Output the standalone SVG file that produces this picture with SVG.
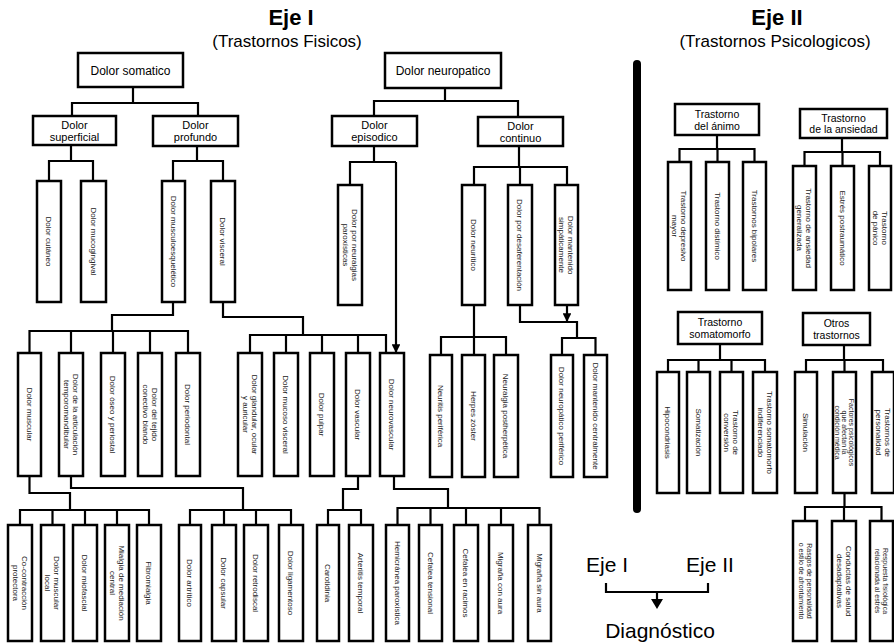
<svg xmlns="http://www.w3.org/2000/svg" width="894" height="643" viewBox="0 0 894 643">
<defs>
<marker id="ah" viewBox="0 0 10 10" refX="10" refY="5" markerWidth="4" markerHeight="4" orient="auto"><path d="M0,0L10,5L0,10z" fill="#000"/></marker>
<style>
.b{fill:#fff;stroke:#000;stroke-width:2.5}
.c{fill:none;stroke:#000;stroke-width:2.2}
text{font-family:"Liberation Sans",Arial,sans-serif;fill:#000;text-anchor:middle}
.h{font-size:12px}
.h2{font-size:11px}
.h3{font-size:10.5px}
.v{font-size:8px;fill:#222}
.v7{font-size:7px;fill:#222}
.t1{font-size:22px;font-weight:bold}
.t2{font-size:17px}
.lg{font-size:21px}
</style>
</defs>
<rect width="894" height="643" fill="#fff"/>

<g id="titles">
<text class="t1" x="291" y="25">Eje I</text>
<text class="t2" x="287" y="47">(Trastornos Fisicos)</text>
<text class="t1" x="777" y="25">Eje II</text>
<text class="t2" x="775" y="47">(Trastornos Psicologicos)</text>
</g>

<g id="connectors">
<path class="c" d="M133,87V103M72,116V103H198V116"/>
<path class="c" d="M71,145V161M49,181V161H93V181"/>
<path class="c" d="M197,146V161M173,181V161H223V181"/>
<path class="c" d="M445,88V101M374,116V101H518V117"/>
<path class="c" d="M374,146V162M350,185V162H396"/>
<path class="c" d="M396,162V353" marker-end="url(#ah)"/>
<path class="c" d="M519,146V167M474,185V167H567V185M520,167V185"/>
<path class="c" d="M173,302V315H112V331M29.5,353V331H188V353M71,331V353M113,331V353M150,331V353"/>
<path class="c" d="M223,302V317H303V335M250,353V335H386V353M286,335V353M322,335V353M358,335V353"/>
<path class="c" d="M474,305V337M441,355V337H506V355M474,337V355"/>
<path class="c" d="M520,305V322H577V338M562,355V338H595.5V355"/>
<path class="c" d="M567,305V322" marker-end="url(#ah)"/>
<path class="c" d="M29.5,476V493H70V510M20,525V510H149V525M52.5,510V525M85,510V525M117,510V525"/>
<path class="c" d="M71,476V488H243V510M190,525V510H291V525M224,510V525M256,510V525"/>
<path class="c" d="M358,476V489H343V510M328,525V510H361V525"/>
<path class="c" d="M394,476V489H448V508M397.5,525V508H539.5V525M430.5,508V525M466,508V525M501,508V525"/>
<path class="c" d="M717,135V149M679.5,162V149H754.5V162M717.5,149V162"/>
<path class="c" d="M842,138V152M804.5,166V152H880V166M842.5,152V166"/>
<path class="c" d="M720,344V360M668,372V360H765V372M698.5,360V372M731.5,360V372"/>
<path class="c" d="M844,345V360M806,372V360H883V372M844.5,360V372"/>
<path class="c" d="M844.5,493V507M805,521V507H881.5V521M844,507V521"/>
</g>

<g id="n-somatico"><rect class="b" x="78" y="53" width="105" height="34"/><text class="h" x="130.5" y="74.5">Dolor somatico</text></g>
<g id="n-neuropatico"><rect class="b" x="385" y="53" width="116" height="35"/><text class="h" x="443" y="75">Dolor neuropatico</text></g>
<g id="n-superficial"><rect class="b" x="33" y="116" width="83" height="29"/><text class="h2" x="74.5" y="129">Dolor</text><text class="h2" x="74.5" y="141">superficial</text></g>
<g id="n-profundo"><rect class="b" x="153" y="116" width="85" height="30"/><text class="h2" x="195.5" y="129">Dolor</text><text class="h2" x="195.5" y="141">profundo</text></g>
<g id="n-episodico"><rect class="b" x="332" y="116" width="85" height="30"/><text class="h2" x="374.5" y="129">Dolor</text><text class="h2" x="374.5" y="141">episodico</text></g>
<g id="n-continuo"><rect class="b" x="478" y="117" width="85" height="29"/><text class="h2" x="520.5" y="130">Dolor</text><text class="h2" x="520.5" y="142">continuo</text></g>

<g id="v-cutaneo"><rect class="b" x="37" y="181" width="24" height="121"/><text class="v" transform="translate(49,241.5) rotate(90)" y="2.8">Dolor cutáneo</text></g>
<g id="v-mucogingival"><rect class="b" x="81" y="181" width="25" height="121"/><text class="v" transform="translate(93.5,241.5) rotate(90)" y="2.8">Dolor mucogingival</text></g>
<g id="v-musculo"><rect class="b" x="162" y="181" width="23" height="121"/><text class="v" transform="translate(173.5,241.5) rotate(90)" y="2.8">Dolor musculoesquelético</text></g>
<g id="v-visceral"><rect class="b" x="211" y="181" width="24" height="121"/><text class="v" transform="translate(223,241.5) rotate(90)" y="2.8">Dolor visceral</text></g>
<g id="v-paroxistico"><rect class="b" x="338" y="185" width="24" height="120"/><text class="v" transform="translate(350,245) rotate(90)"><tspan x="0" y="-1.7">Dolor por neuralgias</tspan><tspan x="0" y="7.3">paroxísticas</tspan></text></g>
<g id="v-neuritico"><rect class="b" x="462" y="185" width="23" height="120"/><text class="v" transform="translate(473.5,245) rotate(90)" y="2.8">Dolor neurítico</text></g>
<g id="v-desaferentacion"><rect class="b" x="508" y="185" width="24" height="120"/><text class="v" transform="translate(520,245) rotate(90)" y="2.8">Dolor por desaferentación</text></g>
<g id="v-simpatico"><rect class="b" x="555" y="185" width="23" height="120"/><text class="v" transform="translate(566.5,245) rotate(90)"><tspan x="0" y="-1.7">Dolor mantenido</tspan><tspan x="0" y="7.3">simpáticamente</tspan></text></g>

<g id="m-muscular"><rect class="b" x="18" y="353" width="23" height="123"/><text class="v" transform="translate(29.5,414.5) rotate(90)" y="2.8">Dolor muscular</text></g>
<g id="m-atm"><rect class="b" x="59" y="353" width="24" height="123"/><text class="v" transform="translate(71,414.5) rotate(90)"><tspan x="0" y="-1.7">Dolor de la articulación</tspan><tspan x="0" y="7.3">temporomandibular</tspan></text></g>
<g id="m-oseo"><rect class="b" x="101" y="353" width="24" height="123"/><text class="v" transform="translate(113,414.5) rotate(90)" y="2.8">Dolor óseo y periostal</text></g>
<g id="m-conectivo"><rect class="b" x="138" y="353" width="24" height="123"/><text class="v" transform="translate(150,414.5) rotate(90)"><tspan x="0" y="-1.7">Dolor del tejido</tspan><tspan x="0" y="7.3">conectivo blando</tspan></text></g>
<g id="m-periodontal"><rect class="b" x="176" y="353" width="24" height="123"/><text class="v" transform="translate(188,414.5) rotate(90)" y="2.8">Dolor periodontal</text></g>

<g id="s-glandular"><rect class="b" x="238" y="353" width="24" height="123"/><text class="v" transform="translate(250,414.5) rotate(90)"><tspan x="0" y="-1.7">Dolor glandular, ocular</tspan><tspan x="0" y="7.3">y auricular</tspan></text></g>
<g id="s-mucoso"><rect class="b" x="274" y="353" width="24" height="123"/><text class="v" transform="translate(286,414.5) rotate(90)" y="2.8">Dolor mucoso visceral</text></g>
<g id="s-pulpar"><rect class="b" x="310" y="353" width="24" height="123"/><text class="v" transform="translate(322,414.5) rotate(90)" y="2.8">Dolor pulpar</text></g>
<g id="s-vascular"><rect class="b" x="346" y="353" width="24" height="123"/><text class="v" transform="translate(358,414.5) rotate(90)" y="2.8">Dolor vascular</text></g>
<g id="s-neurovascular"><rect class="b" x="380" y="353" width="24" height="123"/><text class="v" transform="translate(392,414.5) rotate(90)" y="2.8">Dolor neurovascular</text></g>

<g id="t-neuritis"><rect class="b" x="430" y="355" width="22" height="122"/><text class="v" transform="translate(441,416) rotate(90)" y="2.8">Neuritis periférica</text></g>
<g id="t-herpes"><rect class="b" x="462" y="355" width="23" height="122"/><text class="v" transform="translate(473.5,416) rotate(90)" y="2.8">Herpes zóster</text></g>
<g id="t-postherpetica"><rect class="b" x="494" y="355" width="24" height="122"/><text class="v" transform="translate(506,416) rotate(90)" y="2.8">Neuralgia postherpética</text></g>
<g id="d-periferico"><rect class="b" x="551" y="355" width="22" height="122"/><text class="v" transform="translate(562,416) rotate(90)" y="2.8">Dolor neuropático periférico</text></g>
<g id="d-central"><rect class="b" x="584" y="355" width="23" height="122"/><text class="v" transform="translate(595.5,416) rotate(90)" y="2.8">Dolor mantenido centralmente</text></g>

<g id="l-cocontraccion"><rect class="b" x="8" y="525" width="24" height="116"/><text class="v" transform="translate(20,583) rotate(90)"><tspan x="0" y="-1.7">Co-contracción</tspan><tspan x="0" y="7.3">protectora</tspan></text></g>
<g id="l-local"><rect class="b" x="41" y="525" width="23" height="116"/><text class="v" transform="translate(52.5,583) rotate(90)"><tspan x="0" y="-1.7">Dolor muscular</tspan><tspan x="0" y="7.3">local</tspan></text></g>
<g id="l-miofascial"><rect class="b" x="73" y="525" width="24" height="116"/><text class="v" transform="translate(85,583) rotate(90)" y="2.8">Dolor miofascial</text></g>
<g id="l-mialgia"><rect class="b" x="105" y="525" width="24" height="116"/><text class="v" transform="translate(117,583) rotate(90)"><tspan x="0" y="-1.7">Mialgia de mediación</tspan><tspan x="0" y="7.3">central</tspan></text></g>
<g id="l-fibromialgia"><rect class="b" x="137" y="525" width="24" height="116"/><text class="v" transform="translate(149,583) rotate(90)" y="2.8">Fibromialgia</text></g>
<g id="l-artritico"><rect class="b" x="179" y="525" width="22" height="116"/><text class="v" transform="translate(190,583) rotate(90)" y="2.8">Dolor artrítico</text></g>
<g id="l-capsular"><rect class="b" x="212" y="525" width="24" height="116"/><text class="v" transform="translate(224,583) rotate(90)" y="2.8">Dolor capsular</text></g>
<g id="l-retrodiscal"><rect class="b" x="244" y="525" width="24" height="116"/><text class="v" transform="translate(256,583) rotate(90)" y="2.8">Dolor retrodiscal</text></g>
<g id="l-ligamentoso"><rect class="b" x="279" y="525" width="24" height="116"/><text class="v" transform="translate(291,583) rotate(90)" y="2.8">Dolor ligamentoso</text></g>
<g id="l-carotidinia"><rect class="b" x="317" y="525" width="22" height="116"/><text class="v" transform="translate(328,583) rotate(90)" y="2.8">Carotidinia</text></g>
<g id="l-arteritis"><rect class="b" x="349" y="525" width="24" height="116"/><text class="v" transform="translate(361,583) rotate(90)" y="2.8">Arteritis temporal</text></g>
<g id="l-hemicranea"><rect class="b" x="386" y="525" width="23" height="116"/><text class="v" transform="translate(397.5,583) rotate(90)" y="2.8">Hemicránea paroxística</text></g>
<g id="l-tensional"><rect class="b" x="419" y="525" width="23" height="116"/><text class="v" transform="translate(430.5,583) rotate(90)" y="2.8">Cefalea tensional</text></g>
<g id="l-racimos"><rect class="b" x="454" y="525" width="24" height="116"/><text class="v" transform="translate(466,583) rotate(90)" y="2.8">Cefalea en racimos</text></g>
<g id="l-con-aura"><rect class="b" x="489" y="525" width="24" height="116"/><text class="v" transform="translate(501,583) rotate(90)" y="2.8">Migraña con aura</text></g>
<g id="l-sin-aura"><rect class="b" x="528" y="525" width="23" height="116"/><text class="v" transform="translate(539.5,583) rotate(90)" y="2.8">Migraña sin aura</text></g>

<g id="separator"><rect x="633" y="60" width="8" height="453" rx="4" fill="#000"/></g>

<g id="h-animo"><rect class="b" x="675" y="104" width="84" height="31"/><text class="h3" x="717" y="118">Trastorno</text><text class="h3" x="717" y="129.5">del ánimo</text></g>
<g id="a-depresivo"><rect class="b" x="668" y="162" width="23" height="128"/><text class="v" transform="translate(679.5,226) rotate(90)"><tspan x="0" y="-1.7">Trastorno depresivo</tspan><tspan x="0" y="7.3">mayor</tspan></text></g>
<g id="a-distimico"><rect class="b" x="706" y="162" width="23" height="128"/><text class="v" transform="translate(717.5,226) rotate(90)" y="2.8">Trastorno distímico</text></g>
<g id="a-bipolar"><rect class="b" x="743" y="162" width="23" height="128"/><text class="v" transform="translate(754.5,226) rotate(90)" y="2.8">Trastornos bipolares</text></g>

<g id="h-ansiedad"><rect class="b" x="800" y="109" width="87" height="29"/><text class="h3" x="843.5" y="122">Trastorno</text><text class="h3" x="843.5" y="133">de la ansiedad</text></g>
<g id="x-generalizada"><rect class="b" x="793" y="166" width="23" height="124"/><text class="v" transform="translate(804.5,228) rotate(90)"><tspan x="0" y="-1.7">Trastorno de ansiedad</tspan><tspan x="0" y="7.3">generalizada</tspan></text></g>
<g id="x-postraumatico"><rect class="b" x="831" y="166" width="23" height="124"/><text class="v" transform="translate(842.5,228) rotate(90)" y="2.8">Estrés postraumático</text></g>
<g id="x-panico"><rect class="b" x="869" y="166" width="22" height="124"/><text class="v" transform="translate(880,228) rotate(90)"><tspan x="0" y="-1.7">Trastorno</tspan><tspan x="0" y="7.3">de pánico</tspan></text></g>

<g id="h-somatomorfo"><rect class="b" x="678" y="312" width="84" height="32"/><text class="h3" x="720" y="326">Trastorno</text><text class="h3" x="720" y="338">somatomorfo</text></g>
<g id="o-hipocondria"><rect class="b" x="657" y="372" width="22" height="121"/><text class="v" transform="translate(668,432.5) rotate(90)" y="2.8">Hipocondriasis</text></g>
<g id="o-somatizacion"><rect class="b" x="687" y="372" width="23" height="121"/><text class="v" transform="translate(698.5,432.5) rotate(90)" y="2.8">Somatización</text></g>
<g id="o-conversion"><rect class="b" x="720" y="372" width="23" height="121"/><text class="v" transform="translate(731.5,432.5) rotate(90)"><tspan x="0" y="-1.7">Trastorno de</tspan><tspan x="0" y="7.3">conversión</tspan></text></g>
<g id="o-indiferenciado"><rect class="b" x="753" y="372" width="24" height="121"/><text class="v" transform="translate(765,432.5) rotate(90)"><tspan x="0" y="-1.7">Trastorno somatomorfo</tspan><tspan x="0" y="7.3">indiferenciado</tspan></text></g>

<g id="h-otros"><rect class="b" x="803" y="313" width="67" height="32"/><text class="h3" x="836.5" y="327">Otros</text><text class="h3" x="836.5" y="339">trastornos</text></g>
<g id="p-simulacion"><rect class="b" x="795" y="372" width="22" height="121"/><text class="v" transform="translate(806,432.5) rotate(90)" y="2.8">Simulación</text></g>
<g id="p-factores"><rect class="b" x="833" y="372" width="23" height="121"/><text class="v7" transform="translate(844.5,432.5) rotate(90)"><tspan x="0" y="-4.5">Factores psicológicos</tspan><tspan x="0" y="2.5">que afectan la</tspan><tspan x="0" y="9.5">condición médica</tspan></text></g>
<g id="p-personalidad"><rect class="b" x="872" y="372" width="22" height="121"/><text class="v" transform="translate(883,432.5) rotate(90)"><tspan x="0" y="-1.7">Trastornos de</tspan><tspan x="0" y="7.3">personalidad</tspan></text></g>
<g id="q-rasgos"><rect class="b" x="793" y="521" width="24" height="120"/><text class="v7" transform="translate(805,581) rotate(90)"><tspan x="0" y="-1.5">Rasgos de personalidad</tspan><tspan x="0" y="6.5">o estilo de afrontamiento</tspan></text></g>
<g id="q-conductas"><rect class="b" x="832" y="521" width="24" height="120"/><text class="v" transform="translate(844,581) rotate(90)"><tspan x="0" y="-1.7">Conductas de salud</tspan><tspan x="0" y="7.3">desadaptativas</tspan></text></g>
<g id="q-respuesta"><rect class="b" x="870" y="521" width="23" height="120"/><text class="v7" transform="translate(881.5,581) rotate(90)"><tspan x="0" y="-1.5">Respuesta fisiológica</tspan><tspan x="0" y="6.5">relacionada al estrés</tspan></text></g>

<g id="legend">
<text class="lg" x="607" y="572">Eje I</text>
<text class="lg" x="710" y="572">Eje II</text>
<path class="c" d="M606,583V592H708V583M657,592V600"/>
<polygon points="651,599 663,599 657,609" fill="#000"/>
<text class="lg" x="660" y="638">Diagnóstico</text>
</g>
</svg>
